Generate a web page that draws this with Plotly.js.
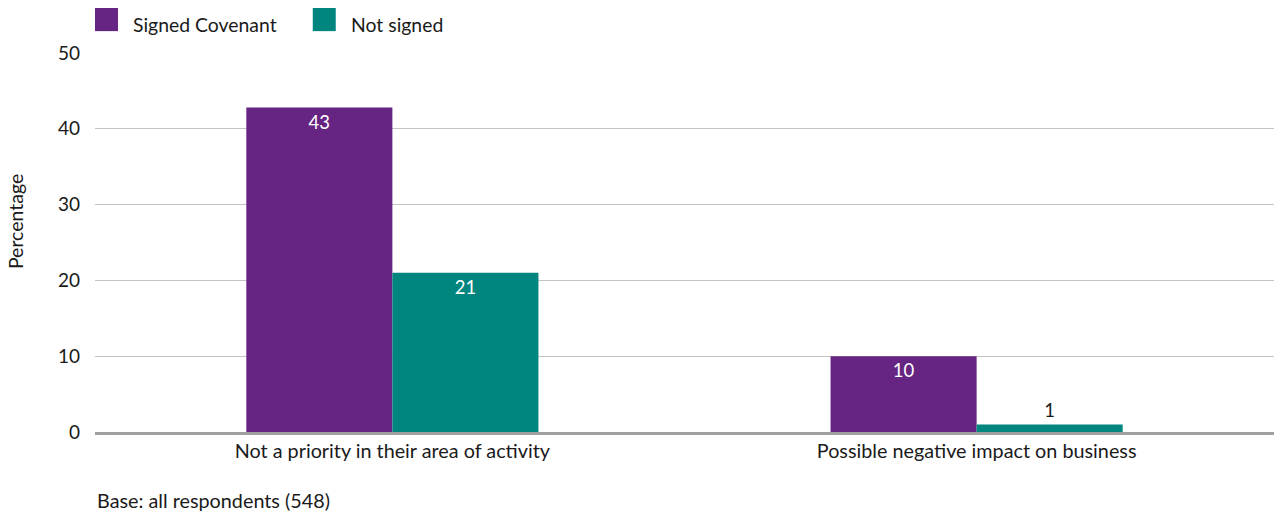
<!DOCTYPE html>
<html><head><meta charset="utf-8">
<script src="https://cdn.plot.ly/plotly-3.0.1.min.js"></script>
<style>html,body{margin:0;padding:0;background:#fff}#c{width:1276px;height:515px}</style>
</head><body><div id="c"></div>
<script>
const categories = ["Not a priority in their area of activity", "Possible negative impact on business"];
const seriesNames = ["Signed Covenant", "Not signed"];
const signedValues = [42.8, 10];
const notSignedValues = [21, 1];
const colors = ["#662483", "#00857f"];
const FONT = "Lato, 'Open Sans', sans-serif";
const TXT = "#1a1a1a";

function tr(name, vals, color) {
  return {
    type: "bar", name: name, x: categories, y: vals,
    marker: {color: color},
    texttemplate: "%{y:.0f}",
    textposition: vals.map(v => v >= 5 ? "inside" : "outside"),
    insidetextanchor: "end",
    insidetextfont: {color: "#ffffff", size: 18.5, family: FONT},
    outsidetextfont: {color: TXT, size: 18.5, family: FONT},
    cliponaxis: false,
    showlegend: false,
    hoverinfo: "skip"
  };
}
const data = [tr(seriesNames[0], signedValues, colors[0]), tr(seriesNames[1], notSignedValues, colors[1])];

const legendX = [0, 0.1847];
const shapes = [], annotations = [];
seriesNames.forEach((n, i) => {
  shapes.push({type: "rect", xref: "paper", yref: "paper", x0: legendX[i], x1: legendX[i] + 0.0195,
    y0: 1.0577, y1: 1.1187, fillcolor: colors[i], line: {width: 0}});
  annotations.push({xref: "paper", yref: "paper", x: legendX[i] + 0.0305, y: 1.076, xanchor: "left", yanchor: "middle",
    text: n, showarrow: false, font: {family: FONT, size: 19.4, color: TXT}});
});
annotations.push({xref: "paper", yref: "paper", x: -0.068, y: 0.556, xanchor: "center", yanchor: "middle",
  textangle: -90, text: "Percentage", showarrow: false, font: {family: FONT, size: 19.5, color: TXT}});
annotations.push({xref: "paper", yref: "paper", x: 0, y: -0.18, xanchor: "left", yanchor: "middle",
  text: "Base: all respondents (548)", showarrow: false, font: {family: FONT, size: 19.8, color: TXT}});

const layout = {
  width: 1276, height: 515,
  margin: {l: 95, r: 2, t: 53, b: 83},
  paper_bgcolor: "#fff", plot_bgcolor: "#fff",
  barmode: "group", bargap: 0.5, bargroupgap: 0,
  font: {family: FONT, size: 18, color: TXT},
  xaxis: {range: [-0.509, 1.509], showgrid: false, showline: true, linecolor: "#a0a0a0", linewidth: 2.5,
    ticks: "", tickfont: {size: 19.8}},
  yaxis: {range: [0, 50], dtick: 10, showgrid: true, gridcolor: "#c4c4c4", gridwidth: 1.3,
    zeroline: false, showline: false, ticks: "", ticklabelstandoff: 14, tickfont: {size: 19}},
  shapes: shapes, annotations: annotations, showlegend: false
};
Plotly.newPlot("c", data, layout, {displayModeBar: false, staticPlot: true});
</script></body></html>
